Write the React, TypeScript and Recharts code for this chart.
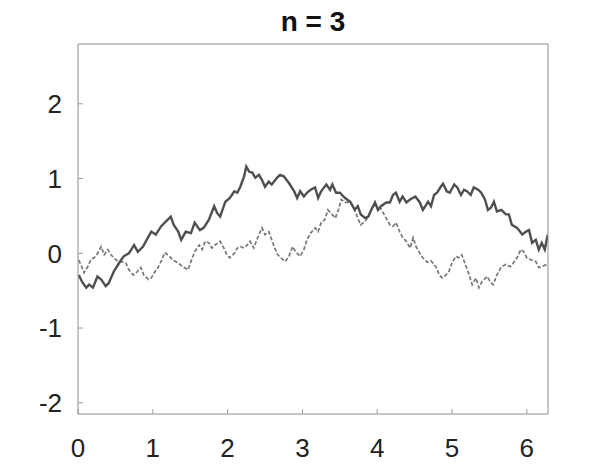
import { Line, LineChart, XAxis, YAxis } from 'recharts'

// solid path: t values and displacement
const solidT = [
  0.01, 0.06, 0.11, 0.15, 0.2, 0.26, 0.31, 0.37, 0.41, 0.48, 0.55, 0.61, 0.68, 0.75, 0.8, 0.87, 0.94, 0.98,
  1.04, 1.11, 1.18, 1.24, 1.28, 1.34, 1.38, 1.44, 1.51, 1.56, 1.63, 1.68, 1.75, 1.82, 1.86, 1.9, 1.97, 2.03,
  2.09, 2.13, 2.17, 2.22, 2.25, 2.29, 2.33, 2.37, 2.42, 2.46, 2.5, 2.55, 2.59, 2.66, 2.7, 2.75, 2.82, 2.89,
  2.93, 2.97, 3.02, 3.06, 3.11, 3.17, 3.21, 3.25, 3.32, 3.37, 3.4, 3.45, 3.5, 3.57, 3.64, 3.7, 3.74, 3.78,
  3.84, 3.88, 3.92, 3.97, 4.01, 4.05, 4.12, 4.17, 4.21, 4.25, 4.3, 4.34, 4.39, 4.44, 4.51, 4.57, 4.61, 4.65,
  4.68, 4.72, 4.76, 4.8, 4.85, 4.88, 4.93, 4.97, 5.03, 5.07, 5.12, 5.16, 5.2, 5.25, 5.29, 5.35, 5.39, 5.44,
  5.48, 5.52, 5.56, 5.6, 5.66, 5.72, 5.76, 5.8, 5.87, 5.94, 5.99, 6.03, 6.07, 6.12, 6.16, 6.2, 6.24, 6.28
]
const solidY = [
  -0.29, -0.39, -0.46, -0.42, -0.46, -0.31, -0.35, -0.44, -0.4, -0.24, -0.13, -0.04, 0.0, 0.11, 0.02, 0.09,
  0.22, 0.29, 0.25, 0.36, 0.43, 0.49, 0.38, 0.29, 0.18, 0.29, 0.27, 0.41, 0.31, 0.34, 0.45, 0.63, 0.54, 0.49,
  0.69, 0.74, 0.83, 0.81, 0.89, 1.03, 1.16, 1.09, 1.08, 1.01, 1.05, 0.98, 0.89, 0.96, 0.92, 1.01, 1.05, 1.03,
  0.94, 0.83, 0.74, 0.83, 0.76, 0.81, 0.85, 0.88, 0.74, 0.83, 0.92, 0.85, 0.92, 0.81, 0.81, 0.74, 0.69, 0.58,
  0.63, 0.52, 0.47, 0.49, 0.58, 0.68, 0.58, 0.63, 0.68, 0.68, 0.78, 0.81, 0.69, 0.76, 0.68, 0.72, 0.76, 0.68,
  0.58, 0.64, 0.69, 0.63, 0.78, 0.81, 0.89, 0.93, 0.83, 0.81, 0.92, 0.88, 0.78, 0.85, 0.83, 0.78, 0.88, 0.85,
  0.81, 0.72, 0.58, 0.61, 0.69, 0.56, 0.58, 0.52, 0.52, 0.38, 0.34, 0.25, 0.29, 0.31, 0.14, 0.18, 0.05, 0.14,
  0.05, 0.25
]

// dashed path
const dashedT = [
  0.01, 0.05, 0.08, 0.13, 0.17, 0.24, 0.31, 0.35, 0.4, 0.44, 0.51, 0.57, 0.64, 0.68, 0.74, 0.78, 0.84, 0.88,
  0.94, 0.98, 1.02, 1.07, 1.12, 1.16, 1.22, 1.27, 1.34, 1.4, 1.47, 1.51, 1.56, 1.62, 1.66, 1.7, 1.75, 1.79,
  1.83, 1.9, 1.95, 1.99, 2.03, 2.09, 2.13, 2.17, 2.22, 2.26, 2.3, 2.35, 2.39, 2.46, 2.5, 2.55, 2.59, 2.63,
  2.67, 2.71, 2.77, 2.82, 2.87, 2.91, 2.97, 3.02, 3.06, 3.11, 3.17, 3.21, 3.25, 3.3, 3.34, 3.38, 3.44, 3.48,
  3.52, 3.57, 3.64, 3.7, 3.74, 3.78, 3.84, 3.88, 3.94, 3.98, 4.04, 4.08, 4.12, 4.17, 4.21, 4.25, 4.3, 4.34,
  4.39, 4.44, 4.48, 4.52, 4.57, 4.61, 4.67, 4.72, 4.79, 4.83, 4.87, 4.92, 4.96, 5.0, 5.05, 5.09, 5.13, 5.19,
  5.23, 5.27, 5.32, 5.36, 5.4, 5.47, 5.51, 5.55, 5.6, 5.66, 5.72, 5.78, 5.82, 5.87, 5.92, 5.96, 6.0, 6.06,
  6.12, 6.16, 6.2, 6.26, 6.28
]
const dashedY = [
  -0.09, -0.18, -0.26, -0.18, -0.09, -0.04, 0.09, -0.02, 0.05, -0.02, -0.09, -0.11, -0.13, -0.22, -0.29,
  -0.26, -0.19, -0.29, -0.35, -0.33, -0.26, -0.19, -0.09, 0.01, -0.04, -0.09, -0.13, -0.18, -0.22, -0.11,
  0.02, 0.11, 0.05, 0.16, 0.14, 0.07, 0.11, 0.16, 0.07, -0.02, -0.06, 0.0, 0.07, 0.09, 0.07, 0.11, 0.16, 0.07,
  0.18, 0.34, 0.25, 0.29, 0.18, 0.07, -0.02, -0.06, -0.11, -0.04, 0.09, 0.02, -0.04, 0.05, 0.18, 0.27, 0.34,
  0.29, 0.41, 0.45, 0.58, 0.54, 0.47, 0.58, 0.72, 0.68, 0.68, 0.58, 0.47, 0.38, 0.43, 0.49, 0.63, 0.65, 0.61,
  0.54, 0.47, 0.38, 0.36, 0.41, 0.29, 0.21, 0.16, 0.07, 0.21, 0.09, 0.0, -0.06, -0.12, -0.1, -0.19, -0.29,
  -0.33, -0.29, -0.24, -0.13, -0.04, -0.06, -0.02, -0.18, -0.29, -0.42, -0.33, -0.46, -0.38, -0.31, -0.38,
  -0.42, -0.29, -0.18, -0.15, -0.18, -0.13, -0.06, 0.05, 0.02, -0.06, -0.09, -0.11, -0.19, -0.18, -0.15, -0.13
]

const xTicks = [0, 1, 2, 3, 4, 5, 6]
const yTicks = [-2, -1, 0, 1, 2]
const title = 'n = 3'

const solidData = solidT.map((t, i) => ({ t, v: solidY[i] }))
const dashedData = dashedT.map((t, i) => ({ t, v: dashedY[i] }))

const frame = '#8c8c8c'
const tickMark = '#9a9a9a'
const font = '"Liberation Sans", Arial, sans-serif'
const X_MARGIN = 24
const Y_MARGIN = 15
const TICK = 1

// label plus a short inward tick mark (ticks sit inside the box)
const BottomTick = (props: any) => {
  const { x, y, payload } = props
  const axisY = y - X_MARGIN - TICK
  return (
    <g>
      <line x1={x} x2={x} y1={axisY} y2={axisY - 5} stroke={tickMark} />
      <text x={x} y={y} dy="0.71em" textAnchor="middle" fill="#222" fontSize={26} fontFamily={font}>
        {payload.value}
      </text>
    </g>
  )
}

const LeftTick = (props: any) => {
  const { x, y, payload } = props
  const axisX = x + Y_MARGIN + TICK
  return (
    <g>
      <line x1={axisX} x2={axisX + 5} y1={y} y2={y} stroke={tickMark} />
      <text x={x} y={y} dy="0.355em" textAnchor="end" fill="#222" fontSize={26} fontFamily={font}>
        {payload.value}
      </text>
    </g>
  )
}

export default function App() {
  return (
    <div style={{ position: 'fixed', left: 0, top: 0, width: 606, height: 466, background: '#fff' }}>
      <div
        style={{
          position: 'absolute',
          left: 78,
          width: 470,
          top: 6,
          textAlign: 'center',
          fontFamily: font,
          fontWeight: 'bold',
          fontSize: 28,
          lineHeight: '32px',
          color: '#111'
        }}
      >
        {title}
      </div>
      <LineChart width={606} height={466} margin={{ top: 44, right: 58, bottom: 12, left: 28 }}>
        <XAxis
          xAxisId="b"
          type="number"
          dataKey="t"
          domain={[0, 2 * Math.PI]}
          allowDataOverflow
          ticks={xTicks}
          height={40}
          tickSize={TICK}
          tickMargin={X_MARGIN}
          axisLine={{ stroke: frame }}
          tickLine={false}
          tick={<BottomTick />}
        />
        <XAxis
          xAxisId="top"
          orientation="top"
          type="number"
          dataKey="t"
          domain={[0, 2 * Math.PI]}
          allowDataOverflow
          ticks={xTicks}
          height={20}
          mirror
          tickSize={5}
          tick={false}
          axisLine={{ stroke: frame }}
          tickLine={{ stroke: tickMark }}
        />
        <YAxis
          yAxisId="l"
          type="number"
          domain={[-2.15, 2.8]}
          allowDataOverflow
          ticks={yTicks}
          width={50}
          tickSize={TICK}
          tickMargin={Y_MARGIN}
          axisLine={{ stroke: frame }}
          tickLine={false}
          tick={<LeftTick />}
        />
        <YAxis
          yAxisId="r"
          orientation="right"
          type="number"
          domain={[-2.15, 2.8]}
          allowDataOverflow
          ticks={yTicks}
          width={20}
          mirror
          tickSize={5}
          tick={false}
          axisLine={{ stroke: frame }}
          tickLine={{ stroke: tickMark }}
        />
        <Line
          xAxisId="top"
          yAxisId="r"
          data={dashedData}
          dataKey="v"
          type="linear"
          stroke="#777"
          strokeWidth={1.7}
          strokeDasharray="4 2"
          dot={false}
          isAnimationActive={false}
        />
        <Line
          xAxisId="b"
          yAxisId="l"
          data={solidData}
          dataKey="v"
          type="linear"
          stroke="#4f4f4f"
          strokeWidth={2.4}
          dot={false}
          isAnimationActive={false}
        />
      </LineChart>
    </div>
  )
}
